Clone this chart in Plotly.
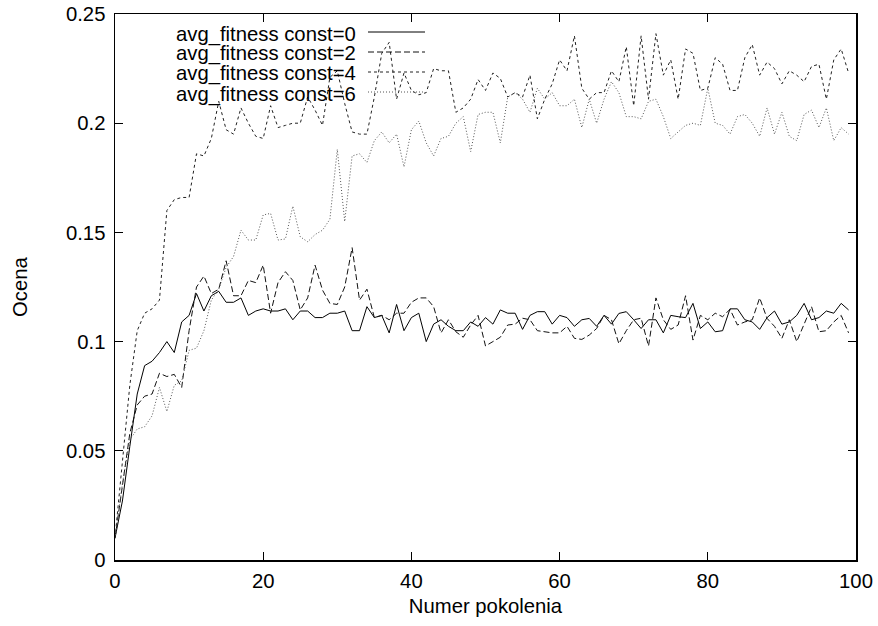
import plotly.graph_objects as go

generations = list(range(100))

fit_const0 = [0.010, 0.027, 0.052, 0.076, 0.089, 0.091, 0.095, 0.100, 0.095, 0.109,
              0.112, 0.122, 0.114, 0.121, 0.123, 0.118, 0.118, 0.120, 0.112, 0.114,
              0.115, 0.114, 0.114, 0.115, 0.110, 0.114, 0.114, 0.111, 0.111, 0.113,
              0.113, 0.114, 0.105, 0.105, 0.116, 0.111, 0.112, 0.104, 0.117, 0.105,
              0.111, 0.113, 0.100, 0.108, 0.110, 0.107, 0.105, 0.105, 0.109, 0.107,
              0.111, 0.108, 0.1145, 0.113, 0.113, 0.1056, 0.112, 0.1137, 0.1137, 0.108,
              0.112, 0.111, 0.107, 0.110, 0.1106, 0.107, 0.112, 0.108, 0.1129, 0.1137,
              0.110, 0.106, 0.110, 0.110, 0.104, 0.112, 0.1114, 0.111, 0.1175, 0.106,
              0.109, 0.1045, 0.105, 0.115, 0.115, 0.110, 0.109, 0.1056, 0.111, 0.114,
              0.108, 0.109, 0.112, 0.1175, 0.110, 0.111, 0.114, 0.113, 0.1175, 0.1145]

fit_const2 = [0.010, 0.035, 0.058, 0.071, 0.075, 0.076, 0.0855, 0.084, 0.085, 0.079,
              0.105, 0.125, 0.130, 0.122, 0.124, 0.137, 0.121, 0.121, 0.128, 0.127,
              0.135, 0.113, 0.127, 0.132, 0.128, 0.1145, 0.120, 0.135, 0.1236, 0.1175,
              0.117, 0.125, 0.143, 0.119, 0.124, 0.111, 0.112, 0.110, 0.113, 0.113,
              0.118, 0.120, 0.120, 0.116, 0.104, 0.110, 0.1045, 0.102, 0.1076, 0.112,
              0.098, 0.100, 0.102, 0.1076, 0.108, 0.1107, 0.110, 0.105, 0.1045, 0.104,
              0.104, 0.107, 0.1015, 0.101, 0.103, 0.106, 0.112, 0.110, 0.099, 0.105,
              0.110, 0.1107, 0.098, 0.120, 0.110, 0.1056, 0.1076, 0.121, 0.1007, 0.112,
              0.110, 0.113, 0.1114, 0.1148, 0.1076, 0.109, 0.110, 0.120, 0.1106, 0.107,
              0.1015, 0.110, 0.100, 0.108, 0.116, 0.1045, 0.105, 0.109, 0.112, 0.104]

fit_const4 = [0.010, 0.045, 0.080, 0.105, 0.113, 0.115, 0.119, 0.160, 0.165, 0.166,
              0.166, 0.186, 0.185, 0.193, 0.210, 0.197, 0.195, 0.207, 0.200, 0.194,
              0.193, 0.208, 0.198, 0.199, 0.200, 0.200, 0.212, 0.206, 0.199, 0.221,
              0.224, 0.209, 0.196, 0.195, 0.195, 0.212, 0.232, 0.237, 0.211, 0.223,
              0.215, 0.213, 0.214, 0.225, 0.224, 0.224, 0.205, 0.207, 0.211, 0.220,
              0.215, 0.223, 0.2205, 0.212, 0.214, 0.212, 0.222, 0.202, 0.211, 0.218,
              0.229, 0.224, 0.240, 0.216, 0.211, 0.214, 0.214, 0.224, 0.219, 0.235,
              0.208, 0.240, 0.211, 0.241, 0.222, 0.229, 0.211, 0.234, 0.232, 0.215,
              0.216, 0.230, 0.227, 0.215, 0.215, 0.230, 0.236, 0.222, 0.228, 0.225,
              0.218, 0.224, 0.222, 0.219, 0.226, 0.227, 0.211, 0.229, 0.234, 0.223]

fit_const6 = [0.010, 0.035, 0.055, 0.060, 0.061, 0.066, 0.079, 0.068, 0.080, 0.082,
              0.096, 0.097, 0.105, 0.119, 0.124, 0.134, 0.139, 0.151, 0.1465, 0.1465,
              0.158, 0.1587, 0.1465, 0.147, 0.162, 0.148, 0.1457, 0.149, 0.151, 0.156,
              0.188, 0.155, 0.185, 0.186, 0.182, 0.192, 0.196, 0.191, 0.195, 0.180,
              0.197, 0.201, 0.191, 0.185, 0.193, 0.194, 0.200, 0.203, 0.187, 0.204,
              0.205, 0.205, 0.191, 0.212, 0.214, 0.211, 0.205, 0.216, 0.211, 0.214,
              0.208, 0.208, 0.211, 0.198, 0.211, 0.200, 0.211, 0.219, 0.214, 0.203,
              0.203, 0.202, 0.210, 0.211, 0.203, 0.193, 0.196, 0.199, 0.200, 0.199,
              0.216, 0.200, 0.199, 0.195, 0.203, 0.204, 0.200, 0.194, 0.207, 0.195,
              0.205, 0.194, 0.192, 0.204, 0.206, 0.198, 0.207, 0.192, 0.198, 0.195]

series_names = ["avg_fitness const=0", "avg_fitness const=2",
                "avg_fitness const=4", "avg_fitness const=6"]
series_values = [fit_const0, fit_const2, fit_const4, fit_const6]

x_ticks = [0, 20, 40, 60, 80, 100]
y_ticks = [0, 0.05, 0.1, 0.15, 0.2, 0.25]
y_ticktext = ["0", "0.05", "0.1", "0.15", "0.2", "0.25"]
x_title = "Numer pokolenia"
y_title = "Ocena"

styles = [
    dict(color="#000000", dash="solid"),
    dict(color="#111111", dash="6px,3px"),
    dict(color="#222222", dash="3px,3px"),
    dict(color="#555555", dash="1px,2px"),
]

FONT = "Liberation Sans, Arial, Helvetica, sans-serif"
FS = 20.3

# Plot area at page pixels x 115..856, y 14..560 (body margin removed below).
FIG_W, FIG_H = 878, 626
L, R, T, B = 115, 22, 14, 66
W, H = FIG_W - L - R, FIG_H - T - B

fig = go.Figure()
for name, vals, st in zip(series_names, series_values, styles):
    fig.add_trace(go.Scatter(
        x=generations, y=vals, mode="lines", name=name,
        line=dict(color=st["color"], width=1, dash=st["dash"]),
        showlegend=False, hoverinfo="skip",
    ))

# gnuplot-style key: text on the left, line sample on the right
row_py = [32, 52, 72, 92]   # page pixel rows
for name, st, py in zip(series_names, styles, row_py):
    yp = (560 - py) / H
    fig.add_annotation(x=(357 - L) / W, y=yp, xref="paper", yref="paper",
                       text=name, showarrow=False, xanchor="right", yanchor="middle",
                       yshift=-2, borderpad=0,
                       font=dict(family=FONT, size=FS, color="black"))
    fig.add_shape(type="line", xref="paper", yref="paper",
                  x0=(368 - L) / W, x1=(425 - L) / W, y0=yp, y1=yp,
                  line=dict(color=st["color"], width=1, dash=st["dash"]))

# y-axis title, rotated, centred at page x ~20
fig.add_annotation(x=(20 - L) / W, y=0.5, xref="paper", yref="paper",
                   text=y_title, textangle=-90, showarrow=False,
                   xanchor="center", yanchor="middle",
                   font=dict(family=FONT, size=FS, color="black"))

axis_common = dict(
    showline=True, linecolor="black", linewidth=1.5, mirror="ticks",
    ticks="inside", ticklen=8, tickwidth=1, tickcolor="black",
    showgrid=False, zeroline=False, ticklabeloverflow="allow",
    tickfont=dict(family=FONT, size=FS, color="black"),
)

fig.update_xaxes(range=[0, 100], tickvals=x_ticks, ticktext=[str(v) for v in x_ticks],
                 ticklabelstandoff=2,
                 title=dict(text=x_title, font=dict(family=FONT, size=FS, color="black"), standoff=8),
                 **axis_common)
fig.update_yaxes(range=[0, 0.25], tickvals=y_ticks, ticktext=y_ticktext,
                 ticklabelstandoff=4,
                 **axis_common)

fig.update_layout(
    width=FIG_W, height=FIG_H,
    margin=dict(l=L, r=R, t=T, b=B, autoexpand=False),
    paper_bgcolor="white", plot_bgcolor="white",
    font=dict(family=FONT, size=FS, color="black"),
    showlegend=False,
)

fig.write_html("out.html",
               config={"displayModeBar": False, "staticPlot": True},
               post_script="document.body.style.margin='0px';document.body.style.overflow='hidden';")
